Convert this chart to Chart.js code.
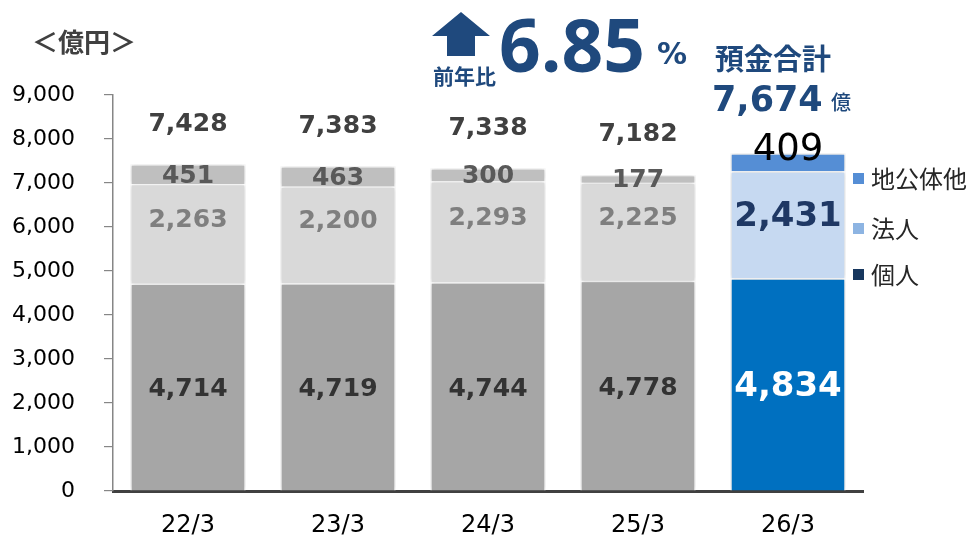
<!DOCTYPE html>
<html><head><meta charset="utf-8">
<script src="https://cdn.jsdelivr.net/npm/chart.js@4/dist/chart.umd.min.js"></script>
<style>
html,body{margin:0;padding:0;background:#fff;}
#wrap{position:relative;width:969px;height:539px;overflow:hidden;background:#fff;}
#c{position:absolute;left:0;top:0;}
.t{position:absolute;white-space:nowrap;line-height:1;}
.jp{font-family:"Noto Sans CJK JP","Noto Sans CJK SC",sans-serif;}
.navy{color:#1F497D;}
.sw{position:absolute;width:11px;height:11px;}
</style></head><body>
<div id="wrap">
<canvas id="c" width="969" height="539"></canvas>
<div class="t jp" style="left:32px;top:28px;font-size:26px;font-weight:700;color:#404040;">＜億円＞</div>
<svg style="position:absolute;left:0;top:0;" width="969" height="539"><polygon points="461,12 490,36 475,36 475,56 447,56 447,36 432,36" fill="#1F497D"/></svg>
<div class="t jp navy" style="left:433px;top:65px;font-size:21px;font-weight:700;">前年比</div>
<div class="t navy" style="left:499px;top:7px;font-size:73px;font-weight:700;font-family:'Open Sans',sans-serif;">6.85</div>
<div class="t navy" style="left:657px;top:39px;font-size:30px;font-weight:700;font-family:'DejaVu Sans',sans-serif;">%</div>
<div class="t jp navy" style="left:715px;top:43px;font-size:29px;font-weight:700;">預金合計</div>
<div class="t navy" style="left:712px;top:82px;font-size:35px;font-weight:700;font-family:'DejaVu Sans',sans-serif;">7,674</div>
<div class="t jp navy" style="left:831px;top:92px;font-size:20px;font-weight:500;">億</div>
<div id="legend"></div>
</div>
<script>
const categories = ['22/3', '23/3', '24/3', '25/3', '26/3'];
const seriesNames = ['個人', '法人', '地公体他'];
const kojin = [4714, 4719, 4744, 4778, 4834];
const hojin = [2263, 2200, 2293, 2225, 2431];
const chikotai = [451, 463, 300, 177, 409];
const totals = [7428, 7383, 7338, 7182, 7674];
const yMin = 0, yMax = 9000, yStep = 1000;

const pastColors = ['#A6A6A6', '#D9D9D9', '#BFBFBF'];
const lastColors = ['#0070C0', '#C6D9F1', '#558ED5'];
const legendColors = ['#17375E', '#8DB4E2', '#558ED5'];
const seriesValues = [kojin, hojin, chikotai];

const labelStyle = [
  {past:{font:'bold 25px "DejaVu Sans"', color:'#333333', dy:3}, last:{font:'bold 34px "DejaVu Sans"', color:'#FFFFFF', dy:3}},
  {past:{font:'bold 25px "DejaVu Sans"', color:'#7F7F7F', dy:-13}, last:{font:'bold 34px "DejaVu Sans"', color:'#1F3864', dy:-8}},
  {past:{font:'bold 25px "DejaVu Sans"', color:'#595959', dy:2}, last:{font:'37px "DejaVu Sans"', color:'#000000', dy:-12}}
];
const fmt = v => v.toLocaleString('en-US');

const lastIdx = categories.length - 1;
const datasets = seriesValues.map((vals, si) => ({
  label: seriesNames[si],
  data: vals,
  backgroundColor: vals.map((v, i) => i === lastIdx ? lastColors[si] : pastColors[si]),
  borderColor: '#FFFFFF',
  borderWidth: 1.5,
  borderSkipped: 'bottom',
  barPercentage: 0.77,
  categoryPercentage: 1.0
}));

const shadowPlugin = {
  id: 'shadow',
  beforeDatasetsDraw(chart) {
    const ctx = chart.ctx;
    ctx.save();
    ctx.shadowColor = 'rgba(0,0,0,0.22)';
    ctx.shadowBlur = 4;
  },
  afterDatasetsDraw(chart) { chart.ctx.restore(); }
};

const labelPlugin = {
  id: 'valueLabels',
  afterDatasetsDraw(chart) {
    const ctx = chart.ctx;
    ctx.save();
    ctx.textAlign = 'center';
    ctx.textBaseline = 'middle';
    chart.data.datasets.forEach((ds, di) => {
      const meta = chart.getDatasetMeta(di);
      meta.data.forEach((bar, i) => {
        const s = i === lastIdx ? labelStyle[di].last : labelStyle[di].past;
        ctx.font = s.font;
        ctx.fillStyle = s.color;
        ctx.fillText(fmt(ds.data[i]), bar.x, (bar.y + bar.base) / 2 + s.dy);
      });
    });
    const yScale = chart.scales.y;
    const meta = chart.getDatasetMeta(2);
    ctx.font = 'bold 25px "DejaVu Sans"';
    ctx.fillStyle = '#404040';
    totals.forEach((t, i) => {
      if (i === lastIdx) return;
      ctx.fillText(fmt(t), meta.data[i].x, yScale.getPixelForValue(t) - 40);
    });
    ctx.restore();
  }
};

new Chart(document.getElementById('c'), {
  type: 'bar',
  data: { labels: categories, datasets },
  options: {
    responsive: false,
    animation: false,
    layout: { padding: { top: 95, right: 106, left: 0, bottom: 0 } },
    plugins: { legend: { display: false }, tooltip: { enabled: false } },
    scales: {
      x: {
        stacked: true,
        grid: { display: false, drawTicks: false, tickLength: 0 },
        border: { display: true, color: '#404040', width: 3 },
        ticks: { color: '#000000', font: { family: 'DejaVu Sans', size: 24 }, padding: 20 },
        afterFit: s => { s.height = 48; }
      },
      y: {
        stacked: true,
        min: yMin, max: yMax,
        ticks: { stepSize: yStep, color: '#000000', font: { family: 'DejaVu Sans', size: 22 }, padding: 29,
                 callback: v => fmt(v) },
        grid: { drawOnChartArea: false, drawTicks: true, tickLength: 9, color: '#868686', lineWidth: 1.2 },
        border: { display: true, color: '#868686', width: 1.5 },
        afterFit: s => { s.width = 113; }
      }
    }
  },
  plugins: [shadowPlugin, labelPlugin]
});

const legendEl = document.getElementById('legend');
const legendY = [275, 229, 179];
seriesNames.forEach((name, i) => {
  const sw = document.createElement('div');
  sw.className = 'sw';
  sw.style.left = '853px';
  sw.style.top = (legendY[i] - 6) + 'px';
  sw.style.background = legendColors[i];
  legendEl.appendChild(sw);
  const tx = document.createElement('div');
  tx.className = 't jp';
  tx.style.left = '871px';
  tx.style.top = (legendY[i] - 13) + 'px';
  tx.style.fontSize = '24px';
  tx.style.color = '#262626';
  tx.textContent = name;
  legendEl.appendChild(tx);
});
</script>
</body></html>
